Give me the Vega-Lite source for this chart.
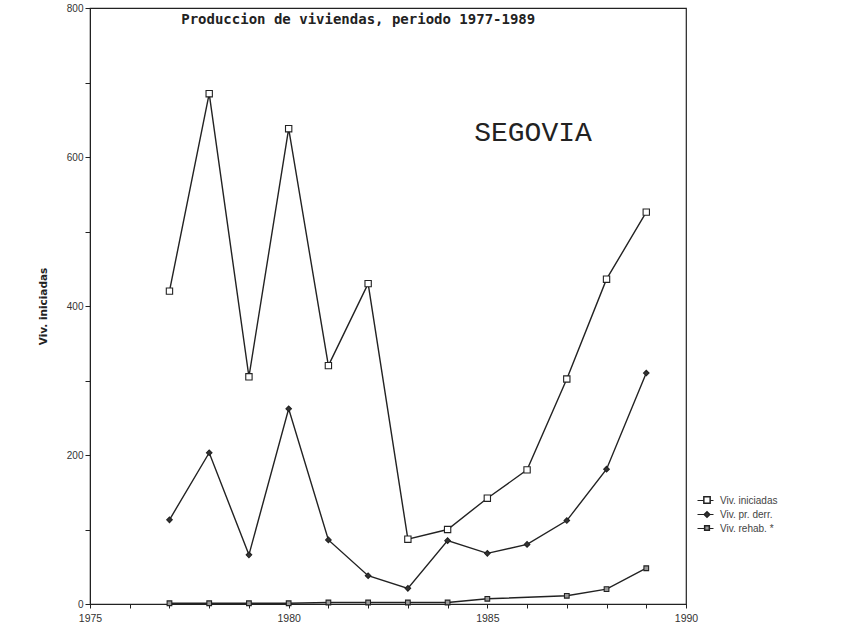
{
  "$schema": "https://vega.github.io/schema/vega-lite/v6.json",
  "width": 596,
  "height": 596,
  "autosize": "none",
  "padding": {"left": 90, "top": 8, "right": 173, "bottom": 29},
  "background": "white",
  "config": {
    "view": {"stroke": "#222", "strokeWidth": 1.2},
    "font": "Liberation Sans"
  },
  "datasets": {
    "series": [
      {"year": 1977, "value": 420, "series": "Viv. iniciadas"},
      {"year": 1978, "value": 685, "series": "Viv. iniciadas"},
      {"year": 1979, "value": 305, "series": "Viv. iniciadas"},
      {"year": 1980, "value": 638, "series": "Viv. iniciadas"},
      {"year": 1981, "value": 320, "series": "Viv. iniciadas"},
      {"year": 1982, "value": 430, "series": "Viv. iniciadas"},
      {"year": 1983, "value": 87, "series": "Viv. iniciadas"},
      {"year": 1984, "value": 100, "series": "Viv. iniciadas"},
      {"year": 1985, "value": 142, "series": "Viv. iniciadas"},
      {"year": 1986, "value": 180, "series": "Viv. iniciadas"},
      {"year": 1987, "value": 302, "series": "Viv. iniciadas"},
      {"year": 1988, "value": 436, "series": "Viv. iniciadas"},
      {"year": 1989, "value": 526, "series": "Viv. iniciadas"},
      {"year": 1977, "value": 113, "series": "Viv. pr. derr."},
      {"year": 1978, "value": 203, "series": "Viv. pr. derr."},
      {"year": 1979, "value": 66, "series": "Viv. pr. derr."},
      {"year": 1980, "value": 262, "series": "Viv. pr. derr."},
      {"year": 1981, "value": 86, "series": "Viv. pr. derr."},
      {"year": 1982, "value": 38, "series": "Viv. pr. derr."},
      {"year": 1983, "value": 21, "series": "Viv. pr. derr."},
      {"year": 1984, "value": 85, "series": "Viv. pr. derr."},
      {"year": 1985, "value": 68, "series": "Viv. pr. derr."},
      {"year": 1986, "value": 80, "series": "Viv. pr. derr."},
      {"year": 1987, "value": 112, "series": "Viv. pr. derr."},
      {"year": 1988, "value": 181, "series": "Viv. pr. derr."},
      {"year": 1989, "value": 310, "series": "Viv. pr. derr."},
      {"year": 1977, "value": 1, "series": "Viv. rehab. *"},
      {"year": 1978, "value": 1, "series": "Viv. rehab. *"},
      {"year": 1979, "value": 1, "series": "Viv. rehab. *"},
      {"year": 1980, "value": 1, "series": "Viv. rehab. *"},
      {"year": 1981, "value": 2, "series": "Viv. rehab. *"},
      {"year": 1982, "value": 2, "series": "Viv. rehab. *"},
      {"year": 1983, "value": 2, "series": "Viv. rehab. *"},
      {"year": 1984, "value": 2, "series": "Viv. rehab. *"},
      {"year": 1985, "value": 7, "series": "Viv. rehab. *"},
      {"year": 1987, "value": 11, "series": "Viv. rehab. *"},
      {"year": 1988, "value": 20, "series": "Viv. rehab. *"},
      {"year": 1989, "value": 48, "series": "Viv. rehab. *"}
    ],
    "notes": [
      {"label": "Produccion de viviendas, periodo 1977-1989", "year": 1981.75, "value": 784, "kind": "title"},
      {"label": "SEGOVIA", "year": 1986.15, "value": 632, "kind": "place"}
    ]
  },
  "encoding": {
    "x": {
      "field": "year",
      "type": "quantitative",
      "scale": {"domain": [1975, 1990], "nice": false, "zero": false},
      "axis": {
        "values": [1975, 1976, 1977, 1978, 1979, 1980, 1981, 1982, 1983, 1984, 1985, 1986, 1987, 1988, 1989, 1990],
        "labelExpr": "datum.value % 5 === 0 ? datum.label : ''",
        "format": "d",
        "title": null,
        "grid": false,
        "tickSize": 4,
        "labelFlush": false,
        "labelOverlap": false,
        "labelFontSize": 10.5,
        "labelColor": "#333",
        "labelPadding": 5,
        "domainColor": "#222",
        "tickColor": "#222"
      }
    },
    "y": {
      "field": "value",
      "type": "quantitative",
      "scale": {"domain": [0, 800], "nice": false},
      "axis": {
        "values": [0, 100, 200, 300, 400, 500, 600, 700, 800],
        "labelExpr": "datum.value % 200 === 0 ? datum.label : ''",
        "title": "Viv. iniciadas",
        "titleFont": "DejaVu Sans",
        "titleFontWeight": "bold",
        "titleFontSize": 10.5,
        "titleColor": "#222",
        "titlePadding": 18,
        "grid": false,
        "tickSize": 5,
        "labelFlush": false,
        "labelOverlap": false,
        "labelFontSize": 10,
        "labelColor": "#333",
        "domainColor": "#222",
        "tickColor": "#222"
      }
    }
  },
  "layer": [
    {
      "data": {"name": "series"},
      "mark": {"type": "line", "strokeWidth": 1.4},
      "encoding": {
        "order": {"field": "year"},
        "color": {
          "field": "series",
          "type": "nominal",
          "scale": {"domain": ["Viv. iniciadas", "Viv. pr. derr.", "Viv. rehab. *"], "range": ["#222", "#222", "#222"]},
          "legend": {
            "title": null,
            "orient": "none",
            "legendX": 607,
            "legendY": 484,
            "labelFontSize": 10,
            "labelColor": "#444",
            "labelFont": "Liberation Sans",
            "labelOffset": 6,
            "rowPadding": -2,
            "symbolType": "stroke",
            "symbolSize": 256,
            "symbolStrokeWidth": 1
          }
        }
      }
    },
    {
      "data": {"name": "series"},
      "mark": {"type": "point", "filled": true, "stroke": "#222", "strokeWidth": 1.1, "opacity": 1},
      "encoding": {
        "shape": {
          "field": "series",
          "type": "nominal",
          "scale": {"range": ["square", "diamond", "square"]},
          "legend": {
            "title": null,
            "orient": "none",
            "legendX": 612,
            "legendY": 487,
            "labelFontSize": 10,
            "labelExpr": "' '",
            "labelFont": "Liberation Sans",
            "labelOffset": 6,
            "rowPadding": 1.5
          }
        },
        "fill": {
          "field": "series",
          "type": "nominal",
          "scale": {"range": ["white", "#333", "#999"]},
          "legend": {
            "title": null,
            "orient": "none",
            "legendX": 612,
            "legendY": 487,
            "labelFontSize": 10,
            "labelExpr": "' '",
            "labelFont": "Liberation Sans",
            "labelOffset": 6,
            "rowPadding": 1.5
          }
        },
        "size": {
          "field": "series",
          "type": "nominal",
          "scale": {"range": [40, 22, 30]},
          "legend": {
            "title": null,
            "orient": "none",
            "legendX": 612,
            "legendY": 487,
            "labelFontSize": 10,
            "labelExpr": "' '",
            "labelFont": "Liberation Sans",
            "labelOffset": 6,
            "rowPadding": 1.5
          }
        }
      }
    },
    {
      "data": {"name": "notes"},
      "transform": [{"filter": "datum.kind === 'title'"}],
      "mark": {"type": "text", "font": "DejaVu Sans Mono", "fontWeight": "bold", "fontSize": 14, "color": "#222", "align": "center", "baseline": "middle"},
      "encoding": {"text": {"field": "label"}}
    },
    {
      "data": {"name": "notes"},
      "transform": [{"filter": "datum.kind === 'place'"}],
      "mark": {"type": "text", "font": "Liberation Mono", "fontSize": 28, "color": "#222", "align": "center", "baseline": "middle"},
      "encoding": {"text": {"field": "label"}}
    }
  ]
}
